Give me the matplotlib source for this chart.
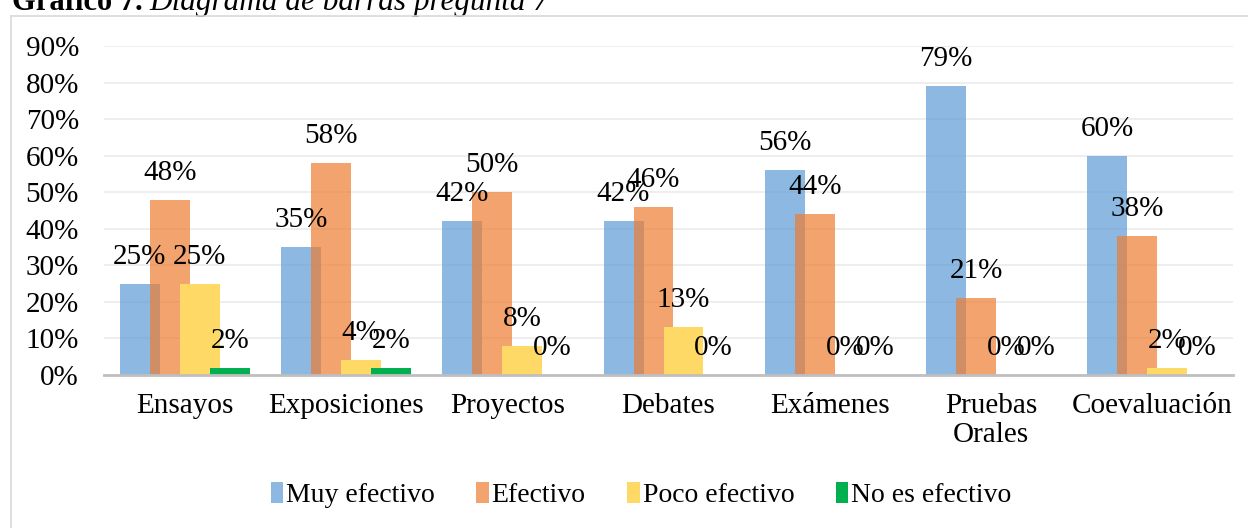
import matplotlib.pyplot as plt
import numpy as np
from matplotlib.lines import Line2D

plt.rcParams['font.family'] = ['Liberation Serif', 'DejaVu Serif']

# data
categorias = ['Ensayos', 'Exposiciones', 'Proyectos', 'Debates', 'Exámenes',
              'Pruebas\nOrales', 'Coevaluación']
muy_efectivo = [25, 35, 42, 42, 56, 79, 60]
efectivo = [48, 58, 50, 46, 44, 21, 38]
poco_efectivo = [25, 4, 8, 13, 0, 0, 2]
no_efectivo = [2, 2, 0, 0, 0, 0, 0]

series = [('Muy efectivo', muy_efectivo, '#5B9BD5', 0.7),
          ('Efectivo', efectivo, '#ED7D31', 0.7),
          ('Poco efectivo', poco_efectivo, '#FFD966', 1.0),
          ('No es efectivo', no_efectivo, '#00B050', 1.0)]

FS = 21

fig = plt.figure(figsize=(12.48, 5.28), dpi=100)
ax = fig.add_axes([104 / 1248, 1 - 375 / 528, (1233 - 104) / 1248, 329 / 528])

# outer frame (only top and left visible)
fig.add_artist(Line2D([11 / 1248, 11 / 1248], [0, 1 - 16 / 528],
                      transform=fig.transFigure, color='#D9D9D9', lw=1.2))
fig.add_artist(Line2D([11 / 1248, 1], [1 - 16 / 528, 1 - 16 / 528],
                      transform=fig.transFigure, color='#D9D9D9', lw=1.2))

# title (cut at top)
t1 = fig.text(12 / 1248, 1 - 17 / 528, 'Gráfico 7.', fontsize=22, fontweight='bold',
              va='bottom', ha='left')
ax.annotate('Diagrama de barras pregunta 7', xy=(1, 0), xycoords=t1,
            xytext=(7, 0), textcoords='offset pixels', fontsize=22.5,
            style='italic', va='bottom', ha='left', annotation_clip=False)

x = np.arange(len(categorias))
w = 0.248
step = 0.186
for i, (name, vals, col, a) in enumerate(series):
    pos = x + (i - 1.5) * step
    ax.bar(pos, vals, width=w, color=col, alpha=a, label=name, zorder=2 + i)
    for p, v in zip(pos, vals):
        ax.annotate(f'{v}%', (p, v), xytext=(0, 27), textcoords='offset pixels',
                    ha='center', va='center', fontsize=FS, zorder=10)

ax.set_xlim(-0.5, 6.5)
ax.set_ylim(0, 90)
ax.set_yticks(range(0, 91, 10))
ax.set_yticklabels([f'{t}%' for t in range(0, 91, 10)])
ax.set_xticks(x)
ax.set_xticklabels(categorias, linespacing=1.15)
ax.tick_params(length=0, labelsize=FS)
ax.tick_params(axis='x', pad=13)
ax.tick_params(axis='y', pad=18)
ax.grid(axis='y', color='#EBEBEB', lw=1.2, zorder=0)
for s in ['top', 'right', 'left']:
    ax.spines[s].set_visible(False)
ax.spines['bottom'].set_color('#BFBFBF')
ax.spines['bottom'].set_linewidth(2)
ax.spines['bottom'].set_zorder(20)

handles, labels = ax.get_legend_handles_labels()
fig.legend(handles, labels, loc='center', bbox_to_anchor=(641 / 1248, 1 - 495 / 528),
           ncol=4, frameon=False, fontsize=20, handlelength=0.45, handleheight=0.8,
           handletextpad=0.1, columnspacing=1.5)

fig.savefig('out.png', dpi=100)
